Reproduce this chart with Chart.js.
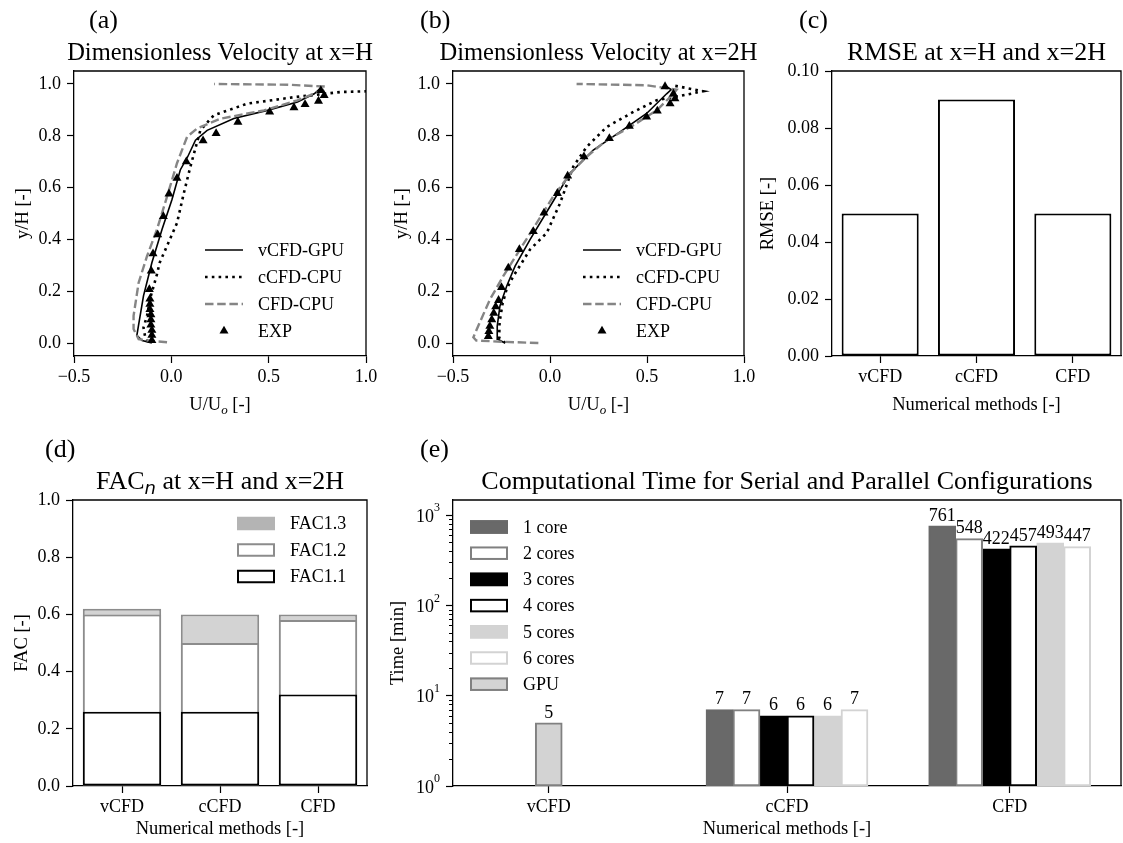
<!DOCTYPE html>
<html>
<head>
<meta charset="utf-8">
<script src="https://cdn.jsdelivr.net/npm/chart.js@4.4.1/dist/chart.umd.min.js"></script>
<style>
  html, body { margin: 0; padding: 0; background: #fff; }
  #fig { position: relative; width: 1123px; height: 843px; }
  #fig canvas { position: absolute; left: 0; top: 0; }
</style>
</head>
<body>
<div id="fig">
  <canvas id="ca" width="1123" height="843"></canvas>
  <canvas id="cb" width="1123" height="843"></canvas>
  <canvas id="cc" width="1123" height="843"></canvas>
  <canvas id="cd" width="1123" height="843"></canvas>
  <canvas id="ce" width="1123" height="843"></canvas>
</div>
<script>
// ---- data -----------------------------------------------------------------
// (a) profiles at x=H
const aSolidU = [-0.10, -0.15, -0.177, -0.169, -0.143, -0.10, -0.048, 0.003, 0.046, 0.084, 0.124, 0.184, 0.321, 0.493, 0.648, 0.734, 0.768];
const aSolidY = [0.0, 0.01, 0.03, 0.066, 0.182, 0.31, 0.438, 0.553, 0.668, 0.719, 0.783, 0.821, 0.867, 0.898, 0.93, 0.962, 0.985];
const aDotU = [-0.12, -0.134, -0.143, -0.125, -0.105, -0.074, -0.060, 0.029, 0.064, 0.098, 0.149, 0.218, 0.39, 0.63, 0.871, 1.02];
const aDotY = [0.005, 0.022, 0.06, 0.105, 0.182, 0.265, 0.31, 0.463, 0.578, 0.681, 0.821, 0.879, 0.924, 0.949, 0.969, 0.972];
const aDashU = [-0.022, -0.10, -0.168, -0.194, -0.194, -0.168, -0.125, -0.074, -0.022, 0.029, 0.081, 0.132, 0.253, 0.476, 0.648, 0.785, 0.79, 0.60, 0.22];
const aDashY = [0.003, 0.008, 0.015, 0.054, 0.105, 0.233, 0.335, 0.438, 0.565, 0.694, 0.796, 0.828, 0.866, 0.898, 0.937, 0.978, 0.99, 0.997, 1.0];
const aExpU = [-0.10, -0.10, -0.10, -0.105, -0.105, -0.105, -0.11, -0.11, -0.11, -0.113, -0.103, -0.094, -0.070, -0.041, -0.012, 0.029, 0.077, 0.163, 0.230, 0.342, 0.505, 0.630, 0.687, 0.756, 0.785, 0.768];
const aExpY = [0.01, 0.03, 0.05, 0.07, 0.09, 0.11, 0.13, 0.15, 0.17, 0.207, 0.278, 0.345, 0.418, 0.489, 0.576, 0.636, 0.700, 0.781, 0.809, 0.853, 0.892, 0.909, 0.921, 0.934, 0.956, 0.975];

// (b) profiles at x=2H
const bSolidU = [-0.24, -0.27, -0.272, -0.258, -0.223, -0.18, -0.103, 0.0, 0.103, 0.223, 0.361, 0.498, 0.601, 0.625, 0.60];
const bSolidY = [0.003, 0.015, 0.066, 0.143, 0.22, 0.297, 0.399, 0.527, 0.655, 0.745, 0.815, 0.886, 0.962, 0.978, 0.99];
const bDotU = [-0.23, -0.262, -0.26, -0.245, -0.223, -0.189, -0.135, -0.103, -0.017, 0.052, 0.12, 0.189, 0.292, 0.43, 0.55, 0.68, 0.79, 0.636];
const bDotY = [0.0, 0.02, 0.08, 0.15, 0.21, 0.258, 0.322, 0.361, 0.425, 0.54, 0.681, 0.757, 0.834, 0.892, 0.937, 0.955, 0.972, 0.994];
const bDashU = [-0.06, -0.25, -0.38, -0.395, -0.37, -0.309, -0.241, -0.155, -0.069, 0.017, 0.112, 0.189, 0.292, 0.43, 0.55, 0.636, 0.653, 0.50, 0.137];
const bDashY = [0.0, 0.005, 0.01, 0.022, 0.066, 0.169, 0.258, 0.361, 0.463, 0.566, 0.661, 0.719, 0.783, 0.841, 0.898, 0.962, 0.978, 0.995, 1.0];
const bExpU = [-0.318, -0.315, -0.31, -0.30, -0.29, -0.28, -0.265, -0.25, -0.215, -0.158, -0.086, -0.031, 0.038, 0.091, 0.175, 0.306, 0.409, 0.498, 0.553, 0.619, 0.644, 0.636, 0.593];
const bExpY = [0.026, 0.045, 0.065, 0.09, 0.115, 0.14, 0.165, 0.215, 0.29, 0.361, 0.431, 0.502, 0.578, 0.645, 0.719, 0.79, 0.837, 0.873, 0.896, 0.924, 0.943, 0.962, 0.99];

// (c)-(e) bar data
const methods = ['vCFD', 'cCFD', 'CFD'];
const methodPos = [-0.07, 1, 2];   // group positions on the (e) x axis
const rmse = [0.05, 0.09, 0.05];
const fac11 = [0.26, 0.26, 0.32];
const fac12 = [0.60, 0.50, 0.58];
const fac13 = [0.62, 0.60, 0.60];
const time1 = [null, 7, 761];
const time2 = [null, 7, 548];
const time3 = [null, 6, 422];
const time4 = [null, 6, 457];
const time5 = [null, 6, 493];
const time6 = [null, 7, 447];
const timeGPU = [5, null, null];

// tick values
const uTicks = [-0.5, 0, 0.5, 1.0];
const hTicks = [0, 0.2, 0.4, 0.6, 0.8, 1.0];
const rmseTicks = [0, 0.02, 0.04, 0.06, 0.08, 0.10];
const facTicks = [0, 0.2, 0.4, 0.6, 0.8, 1.0];
const timeTicks = [1, 10, 100, 1000];

// ---- helpers --------------------------------------------------------------
const W = 1123, H = 843;
const SERIF = '"Liberation Serif", "Times New Roman", serif';
const TICK_FONT = {family: SERIF, size: 18};

function pts(us, ys) { return us.map((u, i) => ({x: u, y: ys[i]})); }

function rich(ctx, parts, x, y, align, vertical) {
  ctx.save();
  ctx.translate(x, y);
  if (vertical) ctx.rotate(-Math.PI / 2);
  ctx.textBaseline = 'alphabetic';
  ctx.textAlign = 'left';
  ctx.fillStyle = '#000';
  const fontOf = p => `${p.style || 'normal'} ${p.size || 18.5}px ${p.family || SERIF}`;
  let w = 0;
  for (const p of parts) { ctx.font = fontOf(p); w += ctx.measureText(p.t).width; }
  let cx = align === 'center' ? -w / 2 : (align === 'right' ? -w : 0);
  for (const p of parts) {
    ctx.font = fontOf(p);
    ctx.fillText(p.t, cx, p.dy || 0);
    cx += ctx.measureText(p.t).width;
  }
  ctx.restore();
}

function triangle(ctx, x, y, r) {
  ctx.beginPath();
  ctx.moveTo(x, y - r);
  ctx.lineTo(x + r * 0.866, y + r * 0.5);
  ctx.lineTo(x - r * 0.866, y + r * 0.5);
  ctx.closePath();
  ctx.fill();
}

// frame, titles, axis labels and in-plot legends
const deco = {
  id: 'deco',
  afterDraw(chart, args, o) {
    if (!o.title) return;
    const {ctx, chartArea: a} = chart;
    ctx.save();
    ctx.strokeStyle = '#000';
    ctx.lineWidth = 1.3;
    ctx.beginPath();
    ctx.moveTo(a.left, a.top);
    ctx.lineTo(a.right, a.top);
    ctx.lineTo(a.right, a.bottom);
    ctx.stroke();

    rich(ctx, [{t: o.letter, size: 26}], a.left + o.letterDx, a.top - 43, 'left');
    rich(ctx, o.title, (a.left + a.right) / 2, a.top - 11, 'center');
    rich(ctx, o.xlabel, (a.left + a.right) / 2, a.bottom + o.xlabelDy, 'center');
    rich(ctx, o.ylabel, a.left - o.ylabelDx, (a.top + a.bottom) / 2, 'center', true);

    const lg = o.legend;
    if (lg) {
      let sets = chart.data.datasets.slice();
      if (lg.reverse) sets.reverse();
      const x1 = lg.fromRight ? a.right + lg.x : a.left + lg.x;
      const x2 = x1 + 38;
      ctx.font = `18px ${SERIF}`;
      ctx.textBaseline = 'middle';
      sets.forEach((ds, i) => {
        const y = a.top + lg.y + i * lg.dy;
        if (lg.kind === 'line') {
          if (ds.showLine) {
            ctx.setLineDash(ds.borderDash || []);
            ctx.strokeStyle = ds.borderColor;
            ctx.lineWidth = ds.borderWidth;
            ctx.beginPath();
            ctx.moveTo(x1, y);
            ctx.lineTo(x2, y);
            ctx.stroke();
            ctx.setLineDash([]);
          } else {
            ctx.fillStyle = ds.backgroundColor;
            triangle(ctx, (x1 + x2) / 2, y, ds.pointRadius);
          }
        } else {
          const sh = 13.5;
          ctx.fillStyle = ds.legendColor || ds.backgroundColor;
          ctx.fillRect(x1, y - sh / 2, 38, sh);
          if (!ds.legendColor) {
            ctx.strokeStyle = ds.borderColor;
            ctx.lineWidth = 2;
            ctx.strokeRect(x1 + 1, y - sh / 2 + 1, 36, sh - 2);
          }
        }
        ctx.fillStyle = '#000';
        ctx.fillText(ds.label, x2 + 15, y + 1);
      });
    }
    ctx.restore();
  }
};
Chart.register(deco);

function axis(o) {
  return Object.assign({
    border: {display: true, color: '#000', width: 1.3},
    grid: {drawOnChartArea: false, drawTicks: true, tickLength: 7, tickWidth: 1.2, tickColor: '#000', offset: false}
  }, o);
}
function fixedTicks(values) { return scale => { scale.ticks = values.map(v => ({value: v})); }; }
const fitX = s => { s.height = 30; };
const fitY = s => { s.width = 50; };

function layoutFor(box) {
  const [l, t, r, b] = box;
  return {padding: {left: l - 50, top: t, right: W - r, bottom: H - b - 30}};
}
function fmt1(v) { return v < 0 ? '\u2212' + Math.abs(v).toFixed(1) : v.toFixed(1); }

const uLabel = [{t: 'U/U', size: 18.5}, {t: 'o', size: 13, style: 'italic', dy: 4}, {t: ' [-]', size: 18.5}];
const methodLabel = [{t: 'Numerical methods [-]', size: 18.5}];

// ---- (a), (b) velocity profiles -------------------------------------------
function profile(id, box, letter, letterDx, titleText, s) {
  new Chart(document.getElementById(id), {
    type: 'scatter',
    data: {
      datasets: [
        {label: 'vCFD-GPU', data: pts(s.solidU, s.solidY), showLine: true, borderColor: '#000', borderWidth: 1.6, pointRadius: 0, order: 3, clip: 0},
        {label: 'cCFD-CPU', data: pts(s.dotU, s.dotY), showLine: true, borderColor: '#000', borderWidth: 2.6, borderDash: [2.6, 4.2], pointRadius: 0, order: 2, clip: 0},
        {label: 'CFD-CPU', data: pts(s.dashU, s.dashY), showLine: true, borderColor: '#858585', borderWidth: 2.4, borderDash: [8.5, 3.7], pointRadius: 0, order: 1, clip: 0},
        {label: 'EXP', data: pts(s.expU, s.expY), showLine: false, pointStyle: 'triangle', pointRadius: 5.2, backgroundColor: '#000', borderWidth: 0, order: 0}
      ]
    },
    options: {
      responsive: false, animation: false, events: [],
      layout: layoutFor(box),
      plugins: {
        legend: {display: false}, tooltip: {enabled: false},
        deco: {letter, letterDx, title: [{t: titleText, size: 24.5}], xlabel: uLabel, xlabelDy: 54,
               ylabel: [{t: 'y/H [-]', size: 18.5}], ylabelDx: 46,
               legend: {kind: 'line', fromRight: true, x: -161, y: 179, dy: 27}}
      },
      scales: {
        x: axis({type: 'linear', min: -0.5, max: 1.0, afterBuildTicks: fixedTicks(uTicks), afterFit: fitX,
                 ticks: {font: TICK_FONT, color: '#000', padding: 3, maxRotation: 0, callback: fmt1}}),
        y: axis({type: 'linear', min: -0.05, max: 1.05, afterBuildTicks: fixedTicks(hTicks), afterFit: fitY,
                 ticks: {font: TICK_FONT, color: '#000', padding: 6, callback: v => v.toFixed(1)}})
      }
    }
  });
}

profile('ca', [74, 71, 366, 356], '(a)', 15, 'Dimensionless Velocity at x=H',
  {solidU: aSolidU, solidY: aSolidY, dotU: aDotU, dotY: aDotY, dashU: aDashU, dashY: aDashY, expU: aExpU, expY: aExpY});
profile('cb', [453, 71, 744, 356], '(b)', -33, 'Dimensionless Velocity at x=2H',
  {solidU: bSolidU, solidY: bSolidY, dotU: bDotU, dotY: bDotY, dashU: bDashU, dashY: bDashY, expU: bExpU, expY: bExpY});

// ---- (c) RMSE --------------------------------------------------------------
new Chart(document.getElementById('cc'), {
  type: 'bar',
  data: {
    labels: methods,
    datasets: [{label: 'RMSE', data: rmse, backgroundColor: '#fff', borderColor: '#000', borderWidth: 2,
                borderSkipped: false, categoryPercentage: 0.8, barPercentage: 1.0}]
  },
  options: {
    responsive: false, animation: false, events: [],
    layout: layoutFor([832, 71, 1121, 356]),
    plugins: {
      legend: {display: false}, tooltip: {enabled: false},
      deco: {letter: '(c)', letterDx: -33, title: [{t: 'RMSE at x=H and x=2H', size: 26}], xlabel: methodLabel, xlabelDy: 54,
             ylabel: [{t: 'RMSE [-]', size: 18.5}], ylabelDx: 59}
    },
    scales: {
      x: axis({afterFit: fitX, ticks: {font: TICK_FONT, color: '#000', padding: 3, maxRotation: 0, autoSkip: false}}),
      y: axis({min: 0, max: 0.10, afterBuildTicks: fixedTicks(rmseTicks), afterFit: fitY,
               ticks: {font: TICK_FONT, color: '#000', padding: 6, callback: v => v.toFixed(2)}})
    }
  }
});

// ---- (d) FAC (overlapping bars) -------------------------------------------
new Chart(document.getElementById('cd'), {
  type: 'bar',
  data: {
    labels: methods,
    datasets: [
      {label: 'FAC1.1', data: fac11, backgroundColor: '#fff', borderColor: '#000', borderWidth: 2, borderSkipped: false, categoryPercentage: 0.8, barPercentage: 1.0},
      {label: 'FAC1.2', data: fac12, backgroundColor: '#fff', borderColor: '#8c8c8c', borderWidth: 2, borderSkipped: false, categoryPercentage: 0.8, barPercentage: 1.0},
      {label: 'FAC1.3', data: fac13, backgroundColor: '#d3d3d3', borderColor: '#8c8c8c', borderWidth: 2, borderSkipped: false, categoryPercentage: 0.8, barPercentage: 1.0, legendColor: '#b4b4b4'}
    ]
  },
  options: {
    responsive: false, animation: false, events: [],
    layout: layoutFor([73, 500, 367, 786]),
    plugins: {
      legend: {display: false}, tooltip: {enabled: false},
      deco: {letter: '(d)', letterDx: -28,
             title: [{t: 'FAC', size: 26}, {t: 'n', size: 18, style: 'italic', family: '"DejaVu Sans"', dy: 5}, {t: ' at x=H and x=2H', size: 26}],
             xlabel: methodLabel, xlabelDy: 48, ylabel: [{t: 'FAC [-]', size: 18.5}], ylabelDx: 46,
             legend: {kind: 'bar', fromRight: true, x: -130, y: 23.5, dy: 26.5, reverse: true}}
    },
    scales: {
      x: axis({stacked: true, afterFit: fitX, ticks: {font: TICK_FONT, color: '#000', padding: 3, maxRotation: 0, autoSkip: false}}),
      y: axis({stacked: false, min: 0, max: 1.0, afterBuildTicks: fixedTicks(facTicks), afterFit: fitY,
               ticks: {font: TICK_FONT, color: '#000', padding: 6, callback: v => v.toFixed(1)}})
    }
  }
});

// ---- (e) computational time ----------------------------------------------
const logAxis = {
  id: 'logAxis',
  afterDraw(chart) {
    const {ctx, chartArea: a} = chart;
    const ys = chart.scales.y;
    ctx.save();
    ctx.strokeStyle = '#000';
    ctx.lineWidth = 1;
    for (let n = 0; n < 4; n++) {
      for (let k = 2; k <= 9; k++) {
        const v = k * Math.pow(10, n);
        if (v > ys.max) continue;
        const y = Math.round(ys.getPixelForValue(v)) + 0.5;
        ctx.beginPath();
        ctx.moveTo(a.left, y);
        ctx.lineTo(a.left - 4, y);
        ctx.stroke();
      }
    }
    ctx.fillStyle = '#000';
    timeTicks.forEach(v => {
      const y = ys.getPixelForValue(v);
      const e = String(Math.round(Math.log10(v)));
      ctx.font = `12px ${SERIF}`;
      const ew = ctx.measureText(e).width;
      ctx.textBaseline = 'middle';
      ctx.textAlign = 'right';
      ctx.font = `18px ${SERIF}`;
      ctx.fillText('10', a.left - 13 - ew, y + 2);
      ctx.font = `12px ${SERIF}`;
      ctx.textAlign = 'left';
      ctx.fillText(e, a.left - 13 - ew, y - 7);
    });
    ctx.restore();
  }
};

const barValues = {
  id: 'barValues',
  afterDatasetsDraw(chart) {
    const ctx = chart.ctx;
    ctx.save();
    ctx.font = `18px ${SERIF}`;
    ctx.textAlign = 'center';
    ctx.textBaseline = 'bottom';
    ctx.fillStyle = '#000';
    chart.data.datasets.forEach((ds, i) => {
      chart.getDatasetMeta(i).data.forEach((el, j) => {
        const v = ds.data[j].y;
        if (v == null) return;
        ctx.fillText(String(v), el.x, el.y - 1);
      });
    });
    ctx.restore();
  }
};

function timeSet(label, data, fill, edge) {
  return {label, data: data.map((v, i) => ({x: methodPos[i], y: v})),
          backgroundColor: fill, borderColor: edge, borderWidth: 2, borderSkipped: false,
          skipNull: true, barThickness: 27};
}

new Chart(document.getElementById('ce'), {
  type: 'bar',
  data: {
    datasets: [
      timeSet('1 core', time1, '#696969', '#696969'),
      timeSet('2 cores', time2, '#fff', '#808080'),
      timeSet('3 cores', time3, '#000', '#000'),
      timeSet('4 cores', time4, '#fff', '#000'),
      timeSet('5 cores', time5, '#d3d3d3', '#d3d3d3'),
      timeSet('6 cores', time6, '#fff', '#d3d3d3'),
      timeSet('GPU', timeGPU, '#d3d3d3', '#808080')
    ]
  },
  plugins: [logAxis, barValues],
  options: {
    responsive: false, animation: false, events: [],
    layout: layoutFor([453, 500, 1121, 786]),
    plugins: {
      legend: {display: false}, tooltip: {enabled: false},
      deco: {letter: '(e)', letterDx: -33, title: [{t: 'Computational Time for Serial and Parallel Configurations', size: 26}],
             xlabel: methodLabel, xlabelDy: 48, ylabel: [{t: 'Time [min]', size: 18.5}], ylabelDx: 50,
             legend: {kind: 'bar', fromRight: false, x: 17, y: 27, dy: 26.2}}
    },
    scales: {
      x: axis({type: 'linear', offset: false, min: -0.5, max: 2.5, afterBuildTicks: fixedTicks(methodPos), afterFit: fitX,
               ticks: {font: TICK_FONT, color: '#000', padding: 3, maxRotation: 0, autoSkip: false, callback: (v, i) => methods[i]}}),
      y: axis({type: 'logarithmic', min: 1, max: 1468, afterBuildTicks: fixedTicks(timeTicks), afterFit: fitY,
               ticks: {font: TICK_FONT, color: '#000', padding: 6, callback: () => ''}})
    }
  }
});
</script>
</body>
</html>
